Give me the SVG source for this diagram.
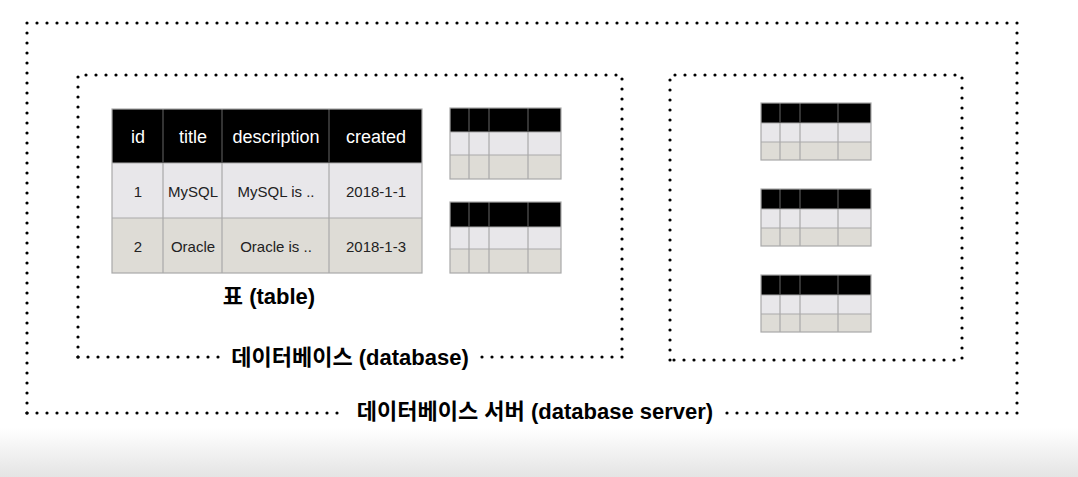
<svg xmlns="http://www.w3.org/2000/svg" width="1078" height="477" viewBox="0 0 1078 477">
<defs>
<linearGradient id="fade" x1="0" y1="0" x2="0" y2="1">
<stop offset="0" stop-color="#ffffff"/>
<stop offset="1" stop-color="#e4e4e4"/>
</linearGradient>
<style>
.dot{fill:none;stroke:#000;stroke-width:3.2;stroke-linecap:round;stroke-dasharray:0 10}
.hd{fill:#000}
.r1{fill:#e8e7ea}
.r2{fill:#dedcd6}
.gl{stroke:#a9a9a9;stroke-width:1.2;fill:none}
.gh{stroke:#555;stroke-width:1.2}
.th{font-family:"Liberation Sans","Noto Sans CJK KR",sans-serif;font-size:18px;fill:#fff;text-anchor:middle}
.td{font-family:"Liberation Sans","Noto Sans CJK KR",sans-serif;font-size:15px;fill:#222;text-anchor:middle}
.lb{font-family:"Liberation Sans","Noto Sans CJK KR",sans-serif;font-size:22px;font-weight:bold;fill:#000;text-anchor:middle}
</style>
</defs>
<rect width="1078" height="477" fill="#fff"/>
<rect x="0" y="428" width="1078" height="49" fill="url(#fade)"/>

<g id="server">
<path class="dot" d="M27,413 L27,23 L1017,23 L1017,413"/>
<path class="dot" d="M27,413 L347,413"/>
<path class="dot" d="M1017,413 L717,413"/>
<text class="lb" x="535" y="419">데이터베이스 서버 (database server)</text>
</g>

<g id="database1">
<path class="dot" d="M78,357 L78,75 L622,75 L622,357"/>
<path class="dot" d="M78,357 L222,357"/>
<path class="dot" d="M622,357 L472,357"/>
<text class="lb" x="350" y="365">데이터베이스 (database)</text>
</g>

<g id="database2">
<path class="dot" d="M670,360 L670,75 L962,75 L962,360 Z"/>
</g>

<g id="table-main">
<rect class="hd" x="112" y="109" width="310" height="54"/>
<rect class="r1" x="112" y="163" width="310" height="55"/>
<rect class="r2" x="112" y="218" width="310" height="55"/>
<path class="gl" d="M112,163 H422 M112,218 H422 M163,163 V273 M222,163 V273 M329,163 V273"/>
<path class="gh" d="M163,109 V163 M222,109 V163 M329,109 V163"/>
<rect class="gl" x="112" y="109" width="310" height="164"/>
<text class="th" x="138" y="143">id</text>
<text class="th" x="193" y="143">title</text>
<text class="th" x="276" y="143">description</text>
<text class="th" x="376" y="143">created</text>
<text class="td" x="138" y="197">1</text>
<text class="td" x="193" y="197">MySQL</text>
<text class="td" x="276" y="197">MySQL is ..</text>
<text class="td" x="376" y="197">2018-1-1</text>
<text class="td" x="138" y="252">2</text>
<text class="td" x="193" y="252">Oracle</text>
<text class="td" x="276" y="252">Oracle is ..</text>
<text class="td" x="376" y="252">2018-1-3</text>
<text class="lb" x="269" y="304">표 (table)</text>
</g>

<g id="table-a1">
<rect class="hd" x="450" y="108" width="111" height="24"/>
<rect class="r1" x="450" y="132" width="111" height="23"/>
<rect class="r2" x="450" y="155" width="111" height="24"/>
<path class="gl" d="M450,132 H561 M450,155 H561 M469,132 V179 M489,132 V179 M528,132 V179"/>
<path class="gh" d="M469,108 V132 M489,108 V132 M528,108 V132"/>
<rect class="gl" x="450" y="108" width="111" height="71"/>
</g>

<g id="table-a2">
<rect class="hd" x="450" y="202" width="111" height="25"/>
<rect class="r1" x="450" y="227" width="111" height="22"/>
<rect class="r2" x="450" y="249" width="111" height="24"/>
<path class="gl" d="M450,227 H561 M450,249 H561 M469,227 V273 M489,227 V273 M528,227 V273"/>
<path class="gh" d="M469,202 V227 M489,202 V227 M528,202 V227"/>
<rect class="gl" x="450" y="202" width="111" height="71"/>
</g>

<g id="table-b1">
<rect class="hd" x="761" y="103" width="110" height="20"/>
<rect class="r1" x="761" y="123" width="110" height="19"/>
<rect class="r2" x="761" y="142" width="110" height="18"/>
<path class="gl" d="M761,123 H871 M761,142 H871 M780,123 V160 M800,123 V160 M838,123 V160"/>
<path class="gh" d="M780,103 V123 M800,103 V123 M838,103 V123"/>
<rect class="gl" x="761" y="103" width="110" height="57"/>
</g>

<g id="table-b2">
<rect class="hd" x="761" y="189" width="110" height="20"/>
<rect class="r1" x="761" y="209" width="110" height="19"/>
<rect class="r2" x="761" y="228" width="110" height="18"/>
<path class="gl" d="M761,209 H871 M761,228 H871 M780,209 V246 M800,209 V246 M838,209 V246"/>
<path class="gh" d="M780,189 V209 M800,189 V209 M838,189 V209"/>
<rect class="gl" x="761" y="189" width="110" height="57"/>
</g>

<g id="table-b3">
<rect class="hd" x="761" y="275" width="110" height="20"/>
<rect class="r1" x="761" y="295" width="110" height="19"/>
<rect class="r2" x="761" y="314" width="110" height="18"/>
<path class="gl" d="M761,295 H871 M761,314 H871 M780,295 V332 M800,295 V332 M838,295 V332"/>
<path class="gh" d="M780,275 V295 M800,275 V295 M838,275 V295"/>
<rect class="gl" x="761" y="275" width="110" height="57"/>
</g>
</svg>
